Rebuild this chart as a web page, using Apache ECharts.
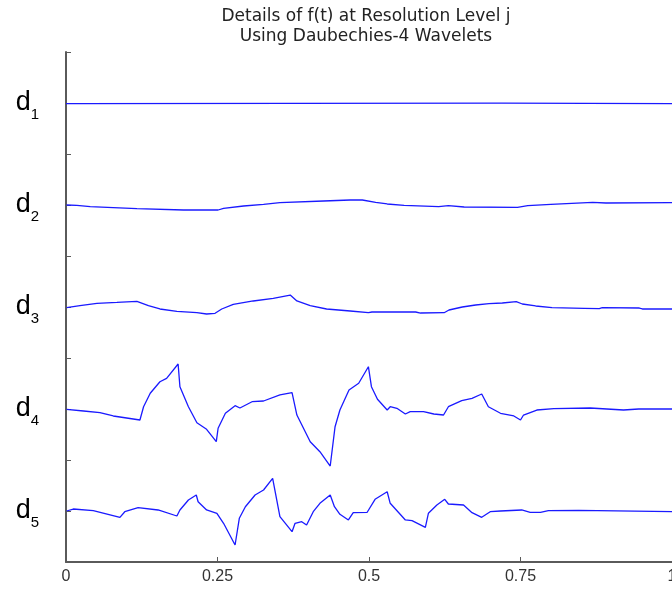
<!DOCTYPE html>
<html>
<head>
<meta charset="utf-8">
<script src="https://cdn.jsdelivr.net/npm/echarts@6/dist/echarts.min.js"></script>
<style>
  html, body { margin: 0; padding: 0; background: #fff; }
  #main { width: 672px; height: 590px; }
</style>
</head>
<body>
<div id="main"></div>
<script>
// details d1..d5, t in [0,1], values already shifted to their level
const d1T = [0, 0.023, 0.025, 0.719, 0.721, 1];
const d1V = [8.986, 8.986, 8.996, 8.996, 8.986, 8.986];

const d2T = [0.001, 0.018, 0.040, 0.078, 0.117, 0.194, 0.251, 0.260, 0.293, 0.326, 0.353, 0.425, 0.469, 0.489,
  0.511, 0.530, 0.558, 0.615, 0.631, 0.657, 0.745, 0.748, 0.762, 0.800, 0.869, 0.891, 1.0];
const d2V = [7.000, 6.994, 6.967, 6.947, 6.927, 6.902, 6.902, 6.935, 6.980, 7.014, 7.045, 7.078, 7.098, 7.098,
  7.053, 7.020, 6.994, 6.967, 6.986, 6.961, 6.955, 6.935, 6.986, 7.014, 7.053, 7.039, 7.045];

const d3T = [0.001, 0.023, 0.051, 0.084, 0.117, 0.136, 0.155, 0.183, 0.216, 0.232, 0.246, 0.257, 0.276, 0.309,
  0.342, 0.370, 0.381, 0.403, 0.430, 0.469, 0.499, 0.505, 0.577, 0.585, 0.624, 0.632, 0.654, 0.676, 0.698,
  0.720, 0.743, 0.753, 0.775, 0.802, 0.855, 0.880, 0.885, 0.946, 0.951, 1.0];
const d3V = [4.986, 5.025, 5.073, 5.092, 5.112, 5.025, 4.961, 4.916, 4.888, 4.863, 4.876, 4.961, 5.053, 5.118,
  5.171, 5.235, 5.118, 5.025, 4.961, 4.922, 4.888, 4.902, 4.902, 4.882, 4.888, 4.941, 5.000, 5.039, 5.065,
  5.078, 5.104, 5.059, 5.020, 4.986, 4.975, 4.967, 4.986, 4.980, 4.961, 4.961];

const d4T = [0.001, 0.029, 0.056, 0.078, 0.122, 0.128, 0.139, 0.155, 0.166, 0.185, 0.188, 0.202, 0.216, 0.232,
  0.248, 0.251, 0.263, 0.279, 0.287, 0.307, 0.326, 0.353, 0.373, 0.381, 0.403, 0.419, 0.436, 0.444, 0.452,
  0.467, 0.483, 0.499, 0.504, 0.514, 0.530, 0.535, 0.546, 0.560, 0.568, 0.590, 0.607, 0.623, 0.631, 0.653,
  0.670, 0.686, 0.697, 0.717, 0.739, 0.750, 0.755, 0.777, 0.805, 0.865, 0.920, 0.945, 1.0];
const d4V = [2.994, 2.961, 2.927, 2.863, 2.784, 3.045, 3.308, 3.535, 3.602, 3.882, 3.437, 3.045, 2.731, 2.602,
  2.359, 2.622, 2.916, 3.065, 3.020, 3.143, 3.157, 3.275, 3.320, 2.882, 2.359, 2.163, 1.882, 2.653, 2.980,
  3.373, 3.504, 3.829, 3.437, 3.190, 2.980, 3.045, 3.014, 2.902, 2.947, 2.947, 2.902, 2.882, 3.045, 3.163,
  3.210, 3.294, 3.045, 2.916, 2.863, 2.784, 2.882, 2.980, 3.006, 3.020, 2.980, 3.000, 3.000];

const d5T = [0.001, 0.012, 0.045, 0.089, 0.097, 0.119, 0.152, 0.183, 0.188, 0.202, 0.215, 0.218, 0.232, 0.249,
  0.260, 0.279, 0.286, 0.296, 0.312, 0.326, 0.341, 0.353, 0.373, 0.378, 0.389, 0.397, 0.408, 0.419, 0.436,
  0.443, 0.452, 0.466, 0.474, 0.497, 0.510, 0.530, 0.535, 0.560, 0.571, 0.593, 0.598, 0.612, 0.625, 0.631,
  0.656, 0.670, 0.686, 0.700, 0.717, 0.719, 0.752, 0.766, 0.783, 0.796, 0.846, 0.849, 1.0];
const d5V = [1.000, 1.039, 1.006, 0.876, 0.986, 1.065, 1.020, 0.902, 1.020, 1.216, 1.314, 1.182, 1.020, 0.955,
  0.759, 0.333, 0.857, 1.084, 1.314, 1.412, 1.641, 0.888, 0.594, 0.759, 0.790, 0.725, 0.986, 1.151, 1.314,
  1.084, 0.935, 0.824, 0.967, 0.975, 1.229, 1.378, 1.151, 0.824, 0.810, 0.680, 0.955, 1.118, 1.229, 1.137,
  1.118, 0.967, 0.876, 0.986, 1.000, 1.020, 1.020, 0.975, 0.975, 1.006, 1.014, 0.986, 0.986];

const xTicks = [0, 0.25, 0.5, 0.75, 1];
// y level -> subscript of d
const levelNames = { 1: '5', 3: '4', 5: '3', 7: '2', 9: '1' };

const titleLines = ['Details of f(t) at Resolution Level j', 'Using Daubechies-4 Wavelets'];

function zip(ts, vs) {
  return ts.map((t, i) => [t, vs[i]]);
}

const myChart = echarts.init(document.getElementById('main'), null, { renderer: 'canvas' });

const axisColor = '#5a5a5a';
const blue = '#1a1aff';

function lineSeries(name, data) {
  return {
    name: name,
    type: 'line',
    data: data,
    showSymbol: false,
    symbol: 'none',
    silent: true,
    animation: false,
    lineStyle: { color: blue, width: 1.3 }
  };
}

let option = {
  backgroundColor: '#fff',
  animation: false,
  title: {
    text: titleLines.join('\n'),
    left: 366,
    top: 7,
    padding: 0,
    textAlign: 'center',
    textStyle: {
      fontFamily: 'DejaVu Sans',
      fontSize: 17,
      fontWeight: 'normal',
      color: '#222',
      lineHeight: 20
    }
  },
  grid: {
    left: 66,
    right: 0,
    top: 52,
    bottom: 28,
    containLabel: false,
    outerBoundsMode: 'none'
  },
  xAxis: {
    type: 'value',
    min: 0,
    max: 1,
    interval: 0.25,
    axisLine: { show: true, lineStyle: { color: axisColor, width: 2 } },
    axisTick: { show: true, inside: true, length: 5, lineStyle: { color: axisColor, width: 1 } },
    splitLine: { show: false },
    axisLabel: {
      show: true,
      showMinLabel: true,
      showMaxLabel: true,
      margin: 7,
      fontFamily: 'Liberation Sans',
      fontSize: 16,
      color: '#333',
      formatter: (v) => {
        let hit = xTicks.find(t => Math.abs(t - v) < 1e-9);
        return hit === undefined ? '' : String(hit);
      }
    }
  },
  yAxis: {
    type: 'value',
    min: 0,
    max: 10,
    interval: 1,
    axisLine: { show: true, lineStyle: { color: axisColor, width: 2 } },
    axisTick: { show: true, inside: true, length: 5, lineStyle: { color: axisColor, width: 1 } },
    splitLine: { show: false },
    axisLabel: {
      show: true,
      margin: 27,
      formatter: (v) => {
        let sub = levelNames[Math.round(v)];
        return sub ? '{d|d}{s|' + sub + '}' : '';
      },
      rich: {
        d: { fontFamily: 'Liberation Sans', fontSize: 27, lineHeight: 38, color: '#000' },
        s: { fontFamily: 'Liberation Sans', fontSize: 15, lineHeight: 15, padding: [23, 0, 0, 0], color: '#000' }
      }
    }
  },
  series: [
    lineSeries('d1', zip(d1T, d1V)),
    lineSeries('d2', zip(d2T, d2V)),
    lineSeries('d3', zip(d3T, d3V)),
    lineSeries('d4', zip(d4T, d4V)),
    lineSeries('d5', zip(d5T, d5V))
  ]
};

myChart.setOption(option);
</script>
</body>
</html>
